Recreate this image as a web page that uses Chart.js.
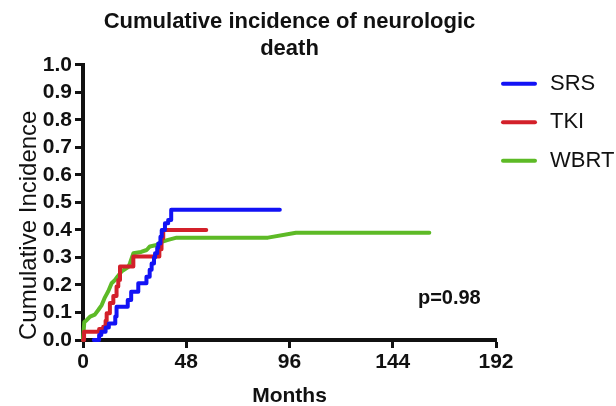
<!DOCTYPE html>
<html><head><meta charset="utf-8">
<script src="https://cdn.jsdelivr.net/npm/chart.js@4.4.1/dist/chart.umd.min.js"></script>
<style>html,body{margin:0;padding:0;background:#fff;}#wrap{width:616px;height:406px;}</style>
</head><body><div id="wrap"><canvas id="c" width="616" height="406"></canvas></div>
<script>
// ---- data ----
const seriesNames = ['SRS', 'TKI', 'WBRT'];
const seriesColors = ['#1212F5', '#D3202A', '#5DBA26'];

const srsMonths = [5, 7.5, 8.5, 10.5, 12, 15, 15.6, 20.8, 22.4, 25.7, 29.5, 31, 31.9, 33, 33.5, 34.5, 35, 36, 36.6, 38.1, 39.6, 41, 91.5];
const srsValues = [0, 0.018, 0.03, 0.045, 0.06, 0.085, 0.121, 0.145, 0.175, 0.206, 0.23, 0.255, 0.278, 0.3, 0.315, 0.335, 0.351, 0.375, 0.4, 0.424, 0.436, 0.473, 0.473];

const tkiMonths = [0, 0.5, 7.5, 9.4, 10.5, 11, 12.5, 14.1, 15.6, 16.4, 17.2, 23.4, 35.5, 36.5, 37.3, 57.3];
const tkiValues = [0, 0.03, 0.04, 0.048, 0.07, 0.097, 0.134, 0.16, 0.194, 0.218, 0.267, 0.303, 0.33, 0.37, 0.40, 0.40];

const wbrtMonths = [0, 0.6, 1.7, 3.3, 5.5, 7.1, 8.7, 10.2, 11.8, 13.3, 14.9, 16, 18, 21, 21.8, 23.4, 27, 29.6, 31.1, 34.2, 36.6, 39.6, 43.5, 86, 99, 161];
const wbrtValues = [0, 0.065, 0.072, 0.085, 0.092, 0.109, 0.127, 0.155, 0.178, 0.206, 0.218, 0.23, 0.25, 0.265, 0.278, 0.315, 0.32, 0.327, 0.34, 0.345, 0.357, 0.364, 0.372, 0.372, 0.39, 0.39];

const xTickValues = [0, 48, 96, 144, 192];
const xTickLabels = ['0', '48', '96', '144', '192'];
const yTickValues = [0, 0.1, 0.2, 0.3, 0.4, 0.5, 0.6, 0.7, 0.8, 0.9, 1.0];
const yTickLabels = ['0.0', '0.1', '0.2', '0.3', '0.4', '0.5', '0.6', '0.7', '0.8', '0.9', '1.0'];

const chartTitle = ['Cumulative incidence of neurologic', 'death'];
const xTitle = 'Months';
const yTitle = 'Cumulative Incidence';
const pValueText = 'p=0.98';
const pValueAt = {x: 155.7, y: 0.15};

// ---- build ----
const FONT = "'Liberation Sans', Arial, Helvetica, sans-serif";
function pts(ms, vs) { return ms.map((m, i) => ({x: m, y: vs[i]})); }

const datasets = [
  {label: seriesNames[0], data: pts(srsMonths, srsValues), borderColor: seriesColors[0], stepped: true},
  {label: seriesNames[1], data: pts(tkiMonths, tkiValues), borderColor: seriesColors[1], stepped: true},
  {label: seriesNames[2], data: pts(wbrtMonths, wbrtValues), borderColor: seriesColors[2], stepped: false}
].map(d => Object.assign(d, {borderWidth: 4, pointRadius: 0, tension: 0, fill: false,
  borderCapStyle: 'round', borderJoinStyle: 'round', clip: false}));

const extras = {
  id: 'extras',
  afterDraw(chart) {
    const {ctx, chartArea, scales} = chart;
    ctx.save();
    // legend
    ctx.font = '22px ' + FONT;
    ctx.textBaseline = 'middle';
    ctx.textAlign = 'left';
    chart.data.datasets.forEach((ds, i) => {
      const y = chartArea.top + 19 + i * 38.5;
      ctx.strokeStyle = ds.borderColor;
      ctx.lineWidth = 4;
      ctx.lineCap = 'round';
      ctx.beginPath();
      ctx.moveTo(chartArea.right + 7, y);
      ctx.lineTo(chartArea.right + 39, y);
      ctx.stroke();
      ctx.fillStyle = '#111';
      ctx.fillText(ds.label, chartArea.right + 54, y);
    });
    // p-value
    ctx.font = 'bold 20px ' + FONT;
    ctx.fillStyle = '#111';
    ctx.fillText(pValueText, scales.x.getPixelForValue(pValueAt.x), scales.y.getPixelForValue(pValueAt.y));
    ctx.restore();
  }
};

new Chart(document.getElementById('c'), {
  type: 'line',
  data: {datasets},
  plugins: [extras],
  options: {
    responsive: false,
    devicePixelRatio: 1,
    animation: false,
    layout: {padding: {left: 0, right: 120, top: 0, bottom: 0}},
    plugins: {
      legend: {display: false},
      tooltip: {enabled: false},
      title: {
        display: true, text: chartTitle, color: '#111', fullSize: false,
        font: {family: FONT, size: 22, weight: 'bold', lineHeight: 1.2},
        padding: {top: 9, bottom: 3}
      }
    },
    scales: {
      x: {
        type: 'linear', min: 0, max: 192,
        afterBuildTicks: s => { s.ticks = xTickValues.map(v => ({value: v})); },
        afterFit: s => { s.height = 66; },
        ticks: {
          color: '#111', padding: 2, maxRotation: 0, autoSkip: false,
          font: {family: FONT, size: 21, weight: 'bold'},
          callback: v => { const i = xTickValues.indexOf(v); return i >= 0 ? xTickLabels[i] : ''; }
        },
        grid: {drawOnChartArea: false, drawTicks: true, tickLength: 8, tickWidth: 3, tickColor: '#111'},
        border: {display: true, color: '#111', width: 4},
        title: {display: true, text: xTitle, color: '#111', padding: {top: 0, bottom: 0},
          font: {family: FONT, size: 21, weight: 'bold', lineHeight: 0.9}}
      },
      y: {
        type: 'linear', min: 0, max: 1,
        afterBuildTicks: s => { s.ticks = yTickValues.map(v => ({value: v})); },
        afterFit: s => { s.width = 83; },
        ticks: {
          color: '#111', padding: 3, autoSkip: false,
          font: {family: FONT, size: 21, weight: 'bold'},
          callback: v => { const i = yTickValues.findIndex(t => Math.abs(t - v) < 1e-9); return i >= 0 ? yTickLabels[i] : ''; }
        },
        grid: {drawOnChartArea: false, drawTicks: true, tickLength: 8, tickWidth: 3, tickColor: '#111'},
        border: {display: true, color: '#111', width: 4},
        title: {display: true, text: yTitle, color: '#111', align: 'start', padding: {top: 15, bottom: 0},
          font: {family: FONT, size: 24, weight: 'normal', lineHeight: 1.2}}
      }
    }
  }
});
</script>
</body></html>
